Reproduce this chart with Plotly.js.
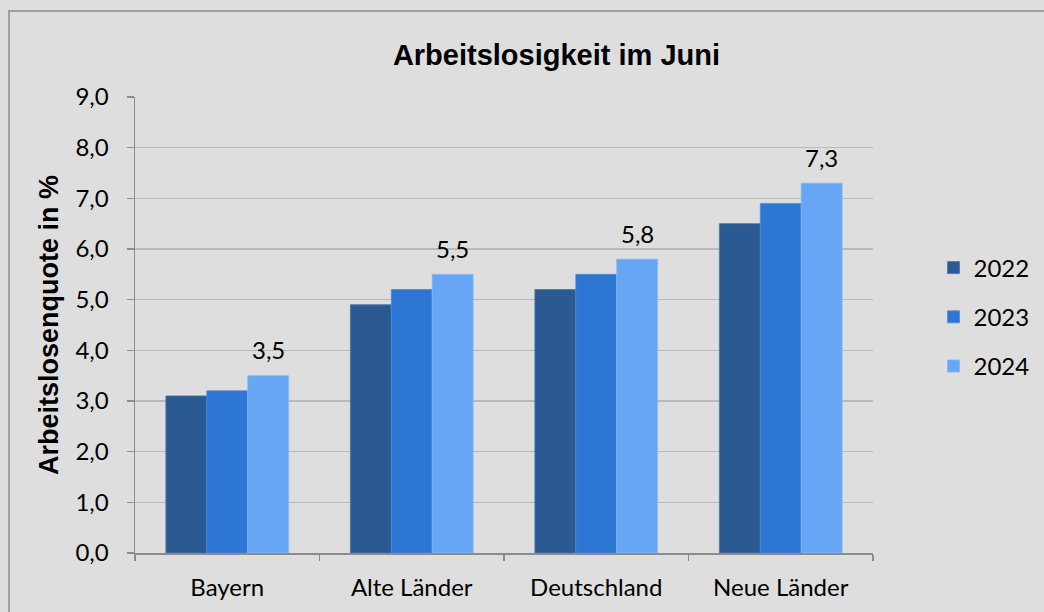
<!DOCTYPE html>
<html>
<head>
<meta charset="utf-8">
<script src="https://cdn.plot.ly/plotly-3.0.1.min.js"></script>
<style>
  html, body { margin: 0; padding: 0; background: #dedede; }
  #wrap { position: relative; width: 1044px; height: 612px; overflow: hidden; }
  #chart { width: 1044px; height: 612px; }
  #frame { position: absolute; left: 8px; top: 10px; width: 1100px; height: 700px;
           border: 2px solid #a0a0a0; pointer-events: none; box-sizing: border-box; }
</style>
</head>
<body>
<div id="wrap">
  <div id="chart"></div>
  <div id="frame"></div>
</div>
<script>
const categories = ["Bayern", "Alte Länder", "Deutschland", "Neue Länder"];
const years = ["2022", "2023", "2024"];
const values2022 = [3.1, 4.9, 5.2, 6.5];
const values2023 = [3.2, 5.2, 5.5, 6.9];
const values2024 = [3.5, 5.5, 5.8, 7.3];
const colors = ["#2b5a92", "#2e76d3", "#66a6f4"];
const lineColors = ["#4a74a8", "#4a8ade", "#86b8f6"];
const yTicks = [0, 1, 2, 3, 4, 5, 6, 7, 8, 9];
const yTickText = yTicks.map(v => v.toFixed(1).replace(".", ","));

const series = [values2022, values2023, values2024];
const traces = series.map((vals, i) => ({
  type: "bar",
  name: years[i],
  x: categories,
  y: vals,
  marker: { color: colors[i], line: { color: lineColors[i], width: 0.8 } },
  legendgroup: "g" + i,
  hoverinfo: "skip"
}));

const labelFont = { family: "Lato, Noto Sans, sans-serif", size: 24, color: "#000" };

const annotations = categories.map((c, i) => ({
  x: c, y: values2024[i], xref: "x", yref: "y",
  text: values2024[i].toFixed(1).replace(".", ","),
  showarrow: false, xshift: 41, yshift: 26,
  font: labelFont
}));

const layout = {
  width: 1044, height: 612,
  paper_bgcolor: "#dedede", plot_bgcolor: "#dedede",
  margin: { l: 135, r: 171, t: 97, b: 59, autoexpand: false },
  barmode: "group",
  bargap: 0.335,
  bargroupgap: 0,
  title: {
    text: "<b>Arbeitslosigkeit im Juni</b>",
    font: { family: "Liberation Sans, Arial, sans-serif", size: 29, color: "#000" },
    x: 0.533, xanchor: "center", y: 0.91, yanchor: "middle"
  },
  xaxis: {
    type: "category",
    tickson: "boundaries",
    ticks: "outside", ticklen: 6, tickcolor: "#8c8c8c", tickwidth: 1.5,
    showline: true, linecolor: "#8c8c8c", linewidth: 1.5,
    showgrid: false,
    tickfont: labelFont,
    ticklabelstandoff: 13,
    fixedrange: true
  },
  yaxis: {
    range: [0, 9],
    tickvals: yTicks, ticktext: yTickText,
    ticks: "outside", ticklen: 7, tickcolor: "#8c8c8c", tickwidth: 1.5,
    showline: true, linecolor: "#8c8c8c", linewidth: 1.5,
    showgrid: true, gridcolor: "#b9b9b9", gridwidth: 1.5,
    zeroline: false,
    tickfont: labelFont,
    ticklabelstandoff: 13,
    title: {
      text: "<b>Arbeitslosenquote in %</b>",
      font: { family: "Liberation Sans, Arial, sans-serif", size: 27, color: "#000" },
      standoff: 9
    },
    fixedrange: true
  },
  legend: {
    x: 1.082, xanchor: "left", xref: "paper",
    y: 0.5175, yanchor: "middle",
    font: labelFont,
    bgcolor: "rgba(0,0,0,0)",
    tracegroupgap: 15,
    itemwidth: 30
  },
  annotations: annotations,
  showlegend: true
};

Plotly.newPlot("chart", traces, layout, { displayModeBar: false, staticPlot: true });
</script>
</body>
</html>
